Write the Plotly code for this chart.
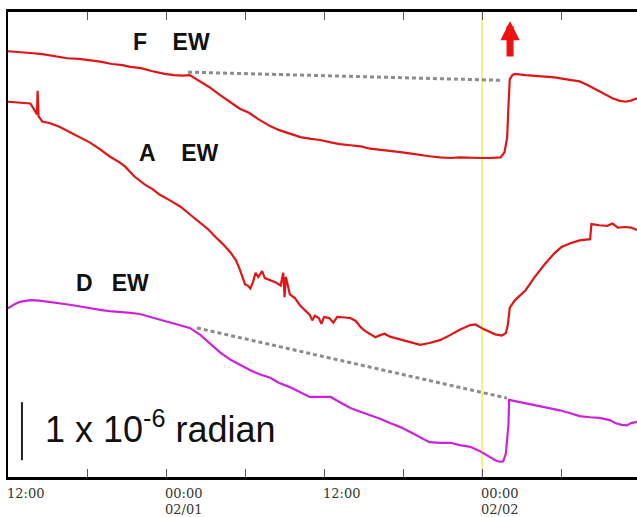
import plotly.graph_objects as go

# x: hours since 12:00 on 01/31 ; y: tilt in micro-radian (arbitrary offsets)
f_hours = [0.0, 0.8, 1.7, 2.6, 3.6, 4.5, 5.4, 6.2, 7.0, 7.9, 8.7, 9.3, 10.1, 10.9, 11.9, 12.6, 13.3, 13.8,
           14.3, 15.3, 16.0, 16.8, 17.6, 18.3, 19.0, 19.9, 20.6, 21.4, 22.2, 23.0, 23.7, 24.5, 25.2, 26.0,
           26.8, 27.5, 28.3, 29.1, 29.8, 30.5, 31.3, 32.0, 32.8, 33.6, 34.3, 35.1, 35.9, 36.6, 37.4, 37.7,
           37.9, 38.0, 38.1, 38.3, 38.5, 39.3, 40.0, 40.8, 41.5, 42.3, 43.0, 43.4, 44.0, 44.7, 45.3, 45.9,
           46.4, 46.9, 47.3, 47.76]
f_tilt = [7.34, 7.33, 7.31, 7.29, 7.25, 7.22, 7.21, 7.19, 7.16, 7.12, 7.10, 7.07, 7.05, 7.00, 6.95, 6.93, 6.92, 6.93,
          6.86, 6.72, 6.60, 6.47, 6.35, 6.28, 6.17, 6.05, 5.98, 5.92, 5.86, 5.83, 5.81, 5.77, 5.74, 5.72,
          5.70, 5.66, 5.64, 5.63, 5.60, 5.58, 5.55, 5.53, 5.51, 5.50, 5.51, 5.50, 5.50, 5.50, 5.51, 5.60,
          5.85, 6.40, 6.86, 6.93, 6.95, 6.93, 6.92, 6.90, 6.89, 6.86, 6.84, 6.82, 6.76, 6.68, 6.60, 6.53,
          6.49, 6.47, 6.49, 6.53]

a_hours = [0.0, 0.8, 1.7, 2.0, 2.2, 2.25, 2.32, 2.6, 3.2, 3.9, 4.7, 5.5, 6.2, 7.0, 7.7, 8.5, 8.9, 9.6, 10.4,
           11.0, 11.5, 12.3, 13.1, 13.8, 14.6, 15.2, 15.7, 16.3, 16.9, 17.3, 17.6, 17.9, 18.0, 18.2, 18.4,
           18.6, 18.8, 19.0, 19.3, 19.5, 19.9, 20.3, 20.7, 20.9, 21.0, 21.1, 21.4, 21.8, 22.2, 22.6, 22.9,
           23.1, 23.3, 23.6, 23.8, 24.0, 24.4, 24.7, 25.0, 25.6, 26.0, 26.4, 26.8, 27.1, 27.5, 27.9, 28.3,
           28.6, 29.0, 29.8, 30.5, 31.3, 32.0, 32.8, 33.6, 34.3, 35.1, 35.5, 36.1, 36.6, 37.0, 37.5, 37.8,
           37.95, 38.1, 38.5, 39.3, 40.0, 40.8, 41.5, 42.0, 42.7, 43.4, 44.2, 44.3, 44.9, 45.5, 45.9, 46.3,
           46.9, 47.3, 47.76]
a_tilt = [6.47, 6.46, 6.44, 6.33, 6.25, 6.66, 6.22, 6.13, 6.10, 6.04, 5.95, 5.86, 5.77, 5.65, 5.53, 5.42, 5.35, 5.18, 5.04,
          4.96, 4.87, 4.77, 4.66, 4.53, 4.38, 4.27, 4.15, 4.02, 3.87, 3.74, 3.58, 3.40, 3.32, 3.30, 3.25,
          3.36, 3.52, 3.45, 3.55, 3.43, 3.40, 3.36, 3.30, 3.52, 3.10, 3.45, 3.15, 3.08, 2.95, 2.86, 2.80,
          2.70, 2.78, 2.74, 2.64, 2.76, 2.74, 2.66, 2.76, 2.75, 2.74, 2.69, 2.58, 2.52, 2.46, 2.41, 2.45,
          2.47, 2.42, 2.37, 2.32, 2.28, 2.31, 2.36, 2.45, 2.54, 2.62, 2.63, 2.55, 2.50, 2.46, 2.44, 2.48,
          2.62, 2.92, 3.05, 3.22, 3.45, 3.68, 3.86, 3.96, 4.03, 4.08, 4.10, 4.36, 4.34, 4.33, 4.37, 4.30,
          4.31, 4.30, 4.26]

d_hours = [0.0, 0.5, 0.9, 1.7, 2.4, 3.2, 4.0, 4.7, 5.5, 6.2, 7.0, 7.7, 8.5, 9.3, 10.0, 10.8, 11.5, 12.3, 13.1,
           13.8, 14.6, 15.3, 16.1, 16.9, 17.6, 18.4, 19.1, 19.9, 20.6, 21.4, 22.2, 22.9, 23.7, 24.5, 25.2,
           26.0, 26.7, 27.5, 28.3, 29.0, 29.8, 30.5, 31.3, 32.0, 32.8, 33.6, 34.3, 35.1, 35.8, 36.6, 37.0,
           37.4, 37.6, 37.8, 38.0, 38.05, 38.5, 38.9, 39.6, 40.4, 41.2, 41.9, 42.7, 43.4, 44.2, 44.9, 45.7,
           46.1, 46.6, 47.0, 47.3, 47.76]
d_tilt = [2.91, 2.98, 3.02, 3.05, 3.04, 3.02, 3.00, 2.97, 2.94, 2.91, 2.88, 2.86, 2.85, 2.83, 2.81, 2.76, 2.72, 2.66, 2.62,
          2.57, 2.45, 2.31, 2.15, 2.02, 1.93, 1.84, 1.77, 1.71, 1.62, 1.55, 1.46, 1.38, 1.38, 1.38, 1.29,
          1.19, 1.13, 1.07, 1.00, 0.93, 0.86, 0.78, 0.69, 0.60, 0.59, 0.59, 0.55, 0.52, 0.45, 0.34, 0.29,
          0.26, 0.27, 0.40, 0.90, 1.33, 1.31, 1.29, 1.26, 1.22, 1.19, 1.15, 1.10, 1.05, 1.03, 1.02, 0.98,
          0.93, 0.90, 0.89, 0.93, 0.95]

# dotted trend extrapolations
f_trend_hours = [13.67, 37.36]
f_trend_tilt = [6.98, 6.84]
d_trend_hours = [14.35, 37.89]
d_trend_tilt = [2.57, 1.36]

tick_hours = [0, 12, 24, 36]
tick_time = ["12:00", "00:00", "12:00", "00:00"]
tick_date = ["", "02/01", "", "02/02"]
event_hour = 36          # yellow marker at 00:00 02/02
eruption_hour = 38.12    # red arrow
scale_bar_start = 0.29
scale_bar_len = 1.0      # 1 micro-radian

x_range = [0, 47.76]
y_range = [0, 8.017]

RED = "#e01515"
MAG = "#cc22dd"

fig = go.Figure()
fig.add_trace(go.Scatter(x=f_trend_hours, y=f_trend_tilt, mode="lines",
                         line=dict(color="#8c8c8c", width=3, dash="4px,3px"), hoverinfo="skip"))
fig.add_trace(go.Scatter(x=d_trend_hours, y=d_trend_tilt, mode="lines",
                         line=dict(color="#8c8c8c", width=3, dash="4px,3px"), hoverinfo="skip"))
fig.add_trace(go.Scatter(x=f_hours, y=f_tilt, mode="lines", line=dict(color=RED, width=2.2)))
fig.add_trace(go.Scatter(x=a_hours, y=a_tilt, mode="lines", line=dict(color=RED, width=2.2)))
fig.add_trace(go.Scatter(x=d_hours, y=d_tilt, mode="lines", line=dict(color=MAG, width=2.2)))

fig.add_shape(type="line", xref="x", yref="paper", x0=event_hour, x1=event_hour, y0=0, y1=1,
              line=dict(color="#f6f080", width=2), layer="below")
fig.add_shape(type="line", xref="x", yref="y", x0=1.06, x1=1.06,
              y0=scale_bar_start, y1=scale_bar_start + scale_bar_len,
              line=dict(color="#222222", width=2))

label_font = dict(family="Liberation Sans, Arial, sans-serif", size=23, color="#111111")
nb = "\u00a0"
fig.add_annotation(x=12.45, y=7.50, text="<b>F" + nb * 4 + "EW</b>", showarrow=False, font=label_font)
fig.add_annotation(x=13.0, y=5.59, text="<b>A" + nb * 4 + "EW</b>", showarrow=False, font=label_font)
fig.add_annotation(x=7.95, y=3.34, text="<b>D" + nb * 3 + "EW</b>", showarrow=False, font=label_font)

fig.add_annotation(x=2.62, y=0.87, xanchor="left", yanchor="middle",
                   text="1 x 10<sup>-6</sup> radian", showarrow=False,
                   font=dict(family="Liberation Sans, Arial, sans-serif", size=36, color="#111111"))

fig.add_annotation(x=eruption_hour, y=7.86, ax=0, ay=37, showarrow=True, text="",
                   arrowhead=2, arrowsize=0.55, arrowwidth=7, arrowcolor="#ee1111")

tick_font = dict(family="DejaVu Serif, serif", size=13, color="#333333")
for h, t1, t2 in zip(tick_hours, tick_time, tick_date):
    fig.add_annotation(x=h, y=0, xref="x", yref="paper", xanchor="left", yanchor="middle",
                       yshift=-16.5, xshift=-2, borderpad=0, showarrow=False, text=t1, font=tick_font)
    if t2:
        fig.add_annotation(x=h, y=0, xref="x", yref="paper", xanchor="left", yanchor="middle",
                           yshift=-32.5, xshift=-2, borderpad=0, showarrow=False, text=t2, font=tick_font)

fig.update_layout(
    width=637, height=517, showlegend=False,
    margin=dict(l=8, r=0, t=12, b=40),
    paper_bgcolor="white", plot_bgcolor="white",
    xaxis=dict(range=x_range, showline=True, linecolor="black", linewidth=2.5, mirror="ticks",
               ticks="inside", ticklen=8, tickwidth=1, tickcolor="#555555", tick0=0, dtick=6,
               showticklabels=False, showgrid=False, zeroline=False),
    yaxis=dict(range=y_range, showline=True, linecolor="black", linewidth=2, mirror=False,
               ticks="", showticklabels=False, showgrid=False, zeroline=False),
)

fig.write_html("out.html")
